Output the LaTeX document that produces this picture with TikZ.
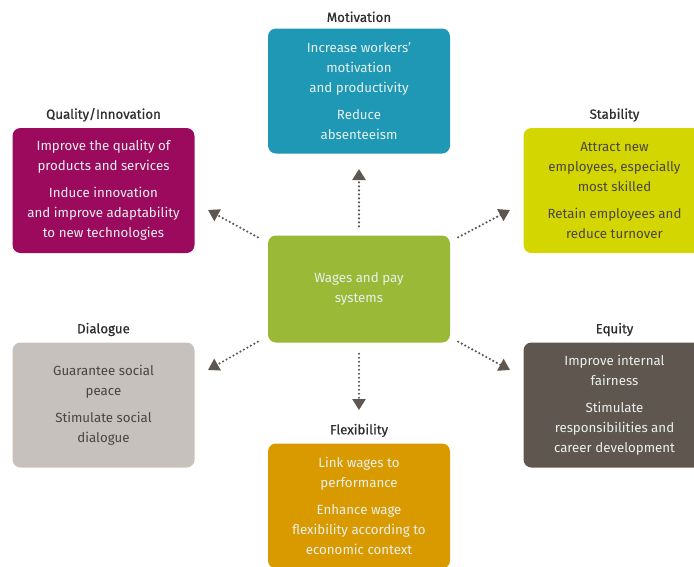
\documentclass[tikz,border=0pt]{standalone}
\usepackage{fontspec}
\setmainfont{Fira Sans}
\newfontfamily\titlefont{Fira Sans}[FakeBold=0.6]
\usetikzlibrary{arrows.meta,positioning}
\definecolor{motivcol}{HTML}{1E98B4}
\definecolor{qualcol}{HTML}{9C0A5E}
\definecolor{stabcol}{HTML}{D3D600}
\definecolor{wagecol}{HTML}{9ABA37}
\definecolor{dialcol}{HTML}{C6C1BD}
\definecolor{equitycol}{HTML}{5F5650}
\definecolor{flexcol}{HTML}{D99A00}
\definecolor{arrowcol}{HTML}{5E5650}
\definecolor{titlecol}{HTML}{2E2E2E}
\definecolor{lighttext}{HTML}{E8F0EE}
\definecolor{darktext}{HTML}{4A4540}
\tikzset{
  box/.style={rounded corners=8pt, minimum width=182pt, minimum height=125pt,
    inner sep=0pt, align=center, text=lighttext,
    font=\fontsize{13.3}{20}\selectfont},
  title/.style={text=titlecol, inner sep=0pt, font=\titlefont\fontsize{13.3}{15}\selectfont},
  link/.style={arrowcol, line width=2.4pt, line cap=round,
    dash pattern=on 0pt off 4pt, -{Triangle[width=13pt,length=11pt]}}
}
\begin{document}
\begin{tikzpicture}[x=1pt,y=-1pt]
\useasboundingbox (0,0) rectangle (694,566);
\coordinate (M) at (359,91);
\coordinate (Q) at (103.5,190.5);
\coordinate (S) at (614.5,190.5);
\coordinate (W) at (359,289);
\coordinate (D) at (103.5,405);
\coordinate (E) at (614.5,405);
\coordinate (F) at (359,506);

\node [box, fill=motivcol] (motiv) at (M) {Increase workers’\\motivation\\and productivity\\[7pt]Reduce\\absenteeism};
\node [box, fill=qualcol] (qual) at (Q) {Improve the quality of\\products and services\\[7pt]Induce innovation\\and improve adaptability\\to new technologies};
\node [box, fill=stabcol, text=darktext] (stab) at (S) {Attract new\\employees, especially\\most skilled\\[7pt]Retain employees and\\reduce turnover};
\node [box, fill=wagecol, minimum height=107pt] (wage) at (W) {Wages and pay\\systems};
\node [box, fill=dialcol, text=darktext] (dial) at (D) {Guarantee social\\peace\\[7pt]Stimulate social\\dialogue};
\node [box, fill=equitycol] (equity) at (E) {Improve internal\\fairness\\[7pt]Stimulate\\responsibilities and\\career development};
\node [box, fill=flexcol] (flex) at (F) {Link wages to\\performance\\[7pt]Enhance wage\\flexibility according to\\economic context};

\node [title, above=6pt of motiv] {Motivation};
\node [title, above=6pt of qual] {Quality/Innovation};
\node [title, above=6pt of stab] {Stability};
\node [title, above=6pt of dial] {Dialogue};
\node [title, above=6pt of equity] {Equity};
\node [title, above=6pt of flex] {Flexibility};

\coordinate (up) at (359,169);
\coordinate (upl) at (208,210);
\coordinate (upr) at (510,210);
\coordinate (dnl) at (208,370);
\coordinate (dnr) at (510,370);
\coordinate (dn) at (359,410);

\draw [link] ([yshift=9pt]wage.north) -- (up);
\draw [link] ([xshift=-10pt,yshift=-2pt]wage.north west) -- (upl);
\draw [link] ([xshift=8pt,yshift=-2pt]wage.north east) -- (upr);
\draw [link] ([xshift=-10pt,yshift=1pt]wage.south west) -- (dnl);
\draw [link] ([xshift=8pt,yshift=1pt]wage.south east) -- (dnr);
\draw [link] ([yshift=-11pt]wage.south) -- (dn);
\end{tikzpicture}
\end{document}
